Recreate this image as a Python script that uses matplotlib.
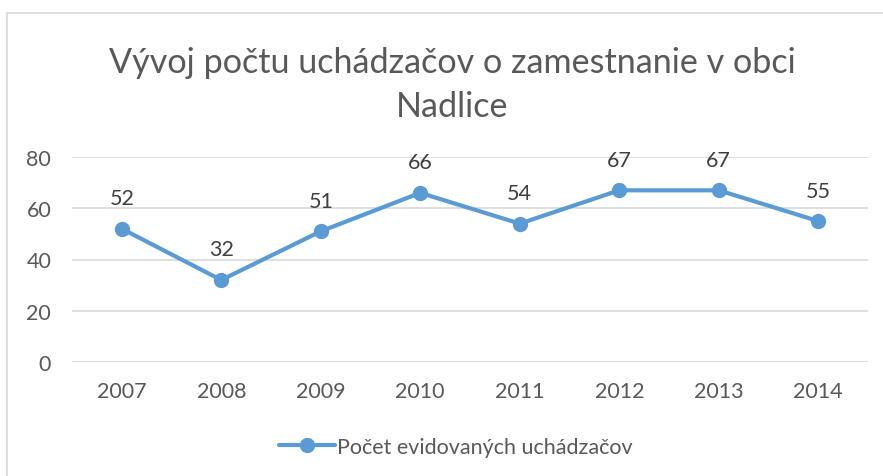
import matplotlib.pyplot as plt
from matplotlib.patches import Rectangle

years = ["2007", "2008", "2009", "2010", "2011", "2012", "2013", "2014"]
counts = [52, 32, 51, 66, 54, 67, 67, 55]
title = "Vývoj počtu uchádzačov o zamestnanie v obci\nNadlice"
series_name = "Počet evidovaných uchádzačov"

blue = "#5B9BD5"
grid = "#D9D9D9"
txt = "#595959"

plt.rcParams['font.family'] = ['Lato', 'DejaVu Sans']

fig = plt.figure(figsize=(8.83, 4.77), dpi=100)
W, H = 883, 477

# chart border (cropped at right/bottom in the reference)
fig.patches.append(Rectangle((7 / W, -0.1), 1.2, 1 - 14 / H + 0.1,
                             transform=fig.transFigure, fill=False,
                             edgecolor=grid, lw=1.2))

ax = fig.add_axes([72 / W, 1 - 363 / H, (868 - 72) / W, (363 - 158) / H])
x = range(len(years))
ax.plot(x, counts, color=blue, lw=3, marker="o", markersize=10,
        solid_capstyle="round", zorder=3)
for i, v in zip(x, counts):
    ax.annotate(str(v), (i, v), xytext=(0, 22), textcoords="offset points",
                ha="center", va="center", fontsize=15.5, color="#404040")

ax.set_xlim(-0.5, len(years) - 0.5)
ax.set_ylim(0, 80)
ax.set_yticks([0, 20, 40, 60, 80])
ax.set_xticks(list(x))
ax.set_xticklabels(years)
ax.grid(axis="y", color=grid, lw=1.2)
ax.set_axisbelow(True)
for s in ax.spines.values():
    s.set_visible(False)
ax.tick_params(length=0, labelsize=15.5, colors=txt)
ax.tick_params(axis="y", pad=15)
ax.tick_params(axis="x", pad=14)

fig.text(452 / W, 1 - 85 / H, title, ha="center", va="center",
         fontsize=24.6, color=txt, linespacing=1.45)

leg = fig.legend(handles=ax.lines, labels=[series_name], loc="center",
                 bbox_to_anchor=(456 / W, 1 - 448 / H), frameon=False,
                 fontsize=15.5, handlelength=2.6, handletextpad=0.1)
for t in leg.get_texts():
    t.set_color(txt)

fig.savefig("out.png", dpi=100)
